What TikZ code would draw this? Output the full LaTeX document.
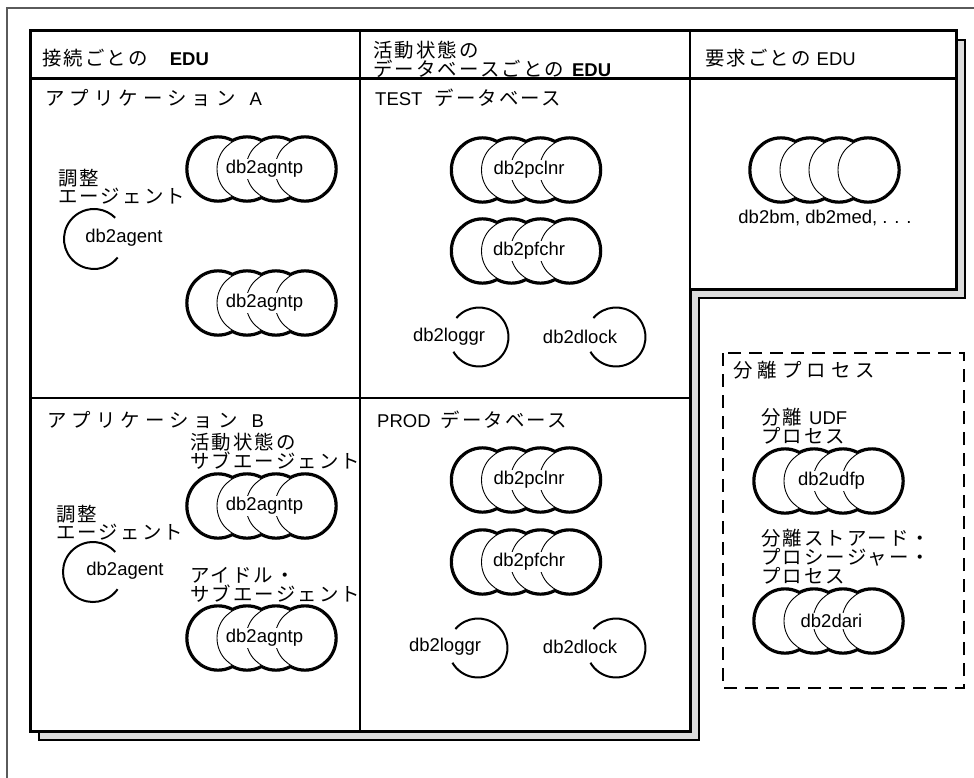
\documentclass[tikz,border=0pt]{standalone}
\usepackage{fontspec}
\setmainfont{Liberation Sans}
\newfontfamily\jp[Scale=1.05,LetterSpace=11]{Noto Sans CJK JP}
\newfontfamily\jpw[Scale=1.05,LetterSpace=26]{Noto Sans CJK JP}
\definecolor{shadowgray}{RGB}{220,220,220}
\definecolor{framegray}{RGB}{90,90,90}
\tikzset{
  txt/.style={anchor=west, inner sep=0pt, font=\fontsize{18.5}{17}\selectfont, align=left},
  lbl/.style={inner sep=0pt, font=\fontsize{18.5}{18}\selectfont},
  clbl/.style={lbl, fill=white, inner sep=1.5pt},
  tblline/.style={line width=2.8pt},
  agentarc/.style={line width=2pt},
}
\newcommand\dbcluster[4]{%
  \foreach \dx in {-43.5,-14.5,14.5,43.5}
    \draw[line width=5.5pt] ({#2+\dx},#3) ellipse [x radius=30, y radius=31];
  \foreach \dx in {-43.5,-14.5,14.5,43.5}
    \fill[white] ({#2+\dx},#3) ellipse [x radius=30, y radius=31];
  \foreach \dx in {-43.5,-14.5,14.5,43.5}
    \draw[line width=0.9pt, fill=white] ({#2+\dx},#3) ellipse [x radius=30, y radius=31];
  \node[clbl] (#1) at ({#2+3},#3) {#4};
}
\begin{document}
\begin{tikzpicture}[x=1pt,y=-1pt]
\useasboundingbox (0,0) rectangle (974,778);
% outer frame
\draw[framegray, line width=1.5pt] (7,778) -- (7,8) -- (974,8);
% shadow
\draw[line width=1.2pt, fill=shadowgray] (39,40) -- (965,40) -- (965,298) -- (699,298) -- (699,740) -- (39,740) -- cycle;
% table
\draw[line width=3pt, fill=white] (30,31) -- (956,31) -- (956,289) -- (690,289) -- (690,731) -- (30,731) -- cycle;
\draw[tblline] (30,78.5) -- (956,78.5);
\draw[tblline] (360,31) -- (360,731);
\draw[tblline] (690,31) -- (690,289);
\draw[tblline] (30,398) -- (690,398);
% headers
\node[txt] (h1) at (42,58) {{\jp 接続ごとの}\hspace{20pt}\textbf{EDU}};
\node[txt, font=\fontsize{18.5}{15.5}\selectfont] (h2) at (373,59.5) {{\jp 活動状態の}\\{\jp データベースごとの}\hspace{6pt}\textbf{EDU}};
\node[txt] (h3) at (705,58) {{\jp 要求ごとの}\hspace{6pt}EDU};
% panel titles
\node[txt] (tA) at (45,98) {{\jpw アプリケーション}\hspace{14pt}A};
\node[txt] (tT) at (375,98) {TEST\hspace{12pt}{\jp データベース}};
\node[txt] (tB) at (47,420) {{\jpw アプリケーション}\hspace{14pt}B};
\node[txt] (tP) at (377,420) {PROD\hspace{10pt}{\jp データベース}};
% dashed box
\draw[line width=2.5pt, dash pattern=on 13pt off 8pt] (723,353) rectangle (964,688);
\node[txt] (tI) at (733,370) {{\jpw 分離プロセス}};
% application A
\node[txt] (cA) at (58,186.5) {{\jp 調整}\\{\jp エージェント}};
\draw[agentarc] (94,239) ++(38:30) arc[start angle=38, end angle=315, radius=30];
\node[lbl] (agA) at (124,238) {db2agent};
\dbcluster{a1}{261.5}{169}{db2agntp}
\dbcluster{a2}{261.5}{303}{db2agntp}
% application B
\node[txt] (sB1) at (190,451) {{\jp 活動状態の}\\{\jp サブエージェント}};
\node[txt] (cB) at (56,522.5) {{\jp 調整}\\{\jp エージェント}};
\draw[agentarc] (93,572) ++(35:30) arc[start angle=35, end angle=318, radius=30];
\node[lbl] (agB) at (125,571) {db2agent};
\dbcluster{b1}{261.5}{506}{db2agntp}
\node[txt] (sB2) at (190,585) {{\jp アイドル・}\\{\jp サブエージェント}};
\dbcluster{b2}{261.5}{638}{db2agntp}
% TEST
\dbcluster{t1}{526}{170}{db2pclnr}
\dbcluster{t2}{526}{251}{db2pfchr}
\draw[agentarc] (479,337) ++(-140:29.5) arc[start angle=-140, end angle=150, radius=29.5];
\node[lbl] (tl) at (449,337) {db2loggr};
\draw[agentarc] (616,337) ++(-140:29.5) arc[start angle=-140, end angle=150, radius=29.5];
\node[lbl] (td) at (580,337) {db2dlock};
% PROD
\dbcluster{p1}{526}{480}{db2pclnr}
\dbcluster{p2}{526}{562}{db2pfchr}
\draw[agentarc] (478,648) ++(-140:29.5) arc[start angle=-140, end angle=150, radius=29.5];
\node[lbl] (pl) at (445,647) {db2loggr};
\draw[agentarc] (616,648) ++(-140:29.5) arc[start angle=-140, end angle=150, radius=29.5];
\node[lbl] (pd) at (580,647) {db2dlock};
% per request
\dbcluster{r1}{824.5}{170}{}
\node[lbl] (rl) at (825,218) {db2bm, db2med, . . .};
% isolated
\node[txt, font=\fontsize{18.5}{17.5}\selectfont] (iu) at (761,426.5) {{\jp 分離}\hspace{7pt}UDF\\{\jp プロセス}};
\dbcluster{u1}{828.5}{481}{db2udfp}
\node[txt, font=\fontsize{18.5}{16.5}\selectfont] (is) at (761,556.5) {{\jp 分離ストアード・}\\{\jp プロシージャー・}\\{\jp プロセス}};
\dbcluster{d1}{828.5}{621}{db2dari}
\end{tikzpicture}
\end{document}
